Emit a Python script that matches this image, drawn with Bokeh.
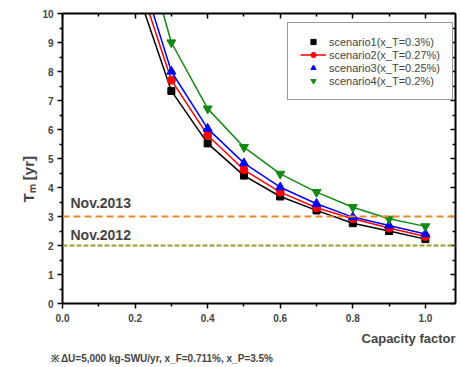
import math
from bokeh.plotting import figure
from bokeh.models import (Range1d, LinearAxis, Span, Label, Legend, LegendItem,
                          FixedTicker, NumeralTickFormatter, Title)
from bokeh.embed import file_html
from bokeh.resources import INLINE

# ---- data ----
capacity = [0.2, 0.3, 0.4, 0.5, 0.6, 0.7, 0.8, 0.9, 1.0]
s1 = [11.0, 7.33, 5.52, 4.41, 3.69, 3.21, 2.77, 2.50, 2.22]
s2 = [11.5, 7.70, 5.80, 4.61, 3.84, 3.30, 2.92, 2.60, 2.31]
s3 = [12.0, 8.00, 6.03, 4.84, 4.01, 3.44, 2.98, 2.69, 2.40]
s4 = [13.4, 9.00, 6.72, 5.39, 4.47, 3.84, 3.32, 2.92, 2.66]
names = ["scenario1(x_T=0.3%)", "scenario2(x_T=0.27%)",
         "scenario3(x_T=0.25%)", "scenario4(x_T=0.2%)"]
ref_levels = [3, 2]
ref_names = ["Nov.2013", "Nov.2012"]
x_ticks = [0.0, 0.2, 0.4, 0.6, 0.8, 1.0]
x_minor = [0.1, 0.3, 0.5, 0.7, 0.9]
y_ticks = list(range(0, 11))
y_minor = [v + 0.5 for v in range(0, 10)]

FONT = "Liberation Sans"

p = figure(width=460, height=367, output_backend="svg", toolbar_location=None,
           x_range=Range1d(0, 1.083), y_range=Range1d(0, 10),
           min_border_left=62, min_border_right=5, min_border_top=13, min_border_bottom=64)
p.grid.visible = False
p.outline_line_color = None
p.background_fill_color = "white"

def style_axis(ax, inward):
    ax.axis_line_width = 2
    ax.axis_line_color = "black"
    ax.major_tick_line_width = 1.5
    ax.minor_tick_line_width = 1.5
    if inward:
        ax.major_tick_in = 5; ax.major_tick_out = 0
        ax.minor_tick_in = 3; ax.minor_tick_out = 0
    else:
        ax.major_tick_in = 0; ax.major_tick_out = 5
        ax.minor_tick_in = 0; ax.minor_tick_out = 3
    ax.major_label_text_font = FONT
    ax.major_label_text_font_style = "bold"
    ax.major_label_text_font_size = "10px"

p.xaxis.ticker = FixedTicker(ticks=x_ticks, minor_ticks=x_minor)
p.yaxis.ticker = FixedTicker(ticks=y_ticks, minor_ticks=y_minor)
p.xaxis.formatter = NumeralTickFormatter(format="0.0")
style_axis(p.xaxis[0], False)
style_axis(p.yaxis[0], False)
p.xaxis.major_label_standoff = 5
p.yaxis.major_label_standoff = 4

top = LinearAxis(ticker=FixedTicker(ticks=x_ticks, minor_ticks=x_minor),
                 major_label_overrides={t: "" for t in x_ticks})
right = LinearAxis(ticker=FixedTicker(ticks=y_ticks, minor_ticks=y_minor),
                   major_label_overrides={t: "" for t in y_ticks})
for ax in (top, right):
    style_axis(ax, True)
    ax.major_label_standoff = 0
p.add_layout(top, "above")
p.add_layout(right, "right")

# reference lines
p.add_layout(Span(location=ref_levels[0], dimension="width", line_color="#e8892e",
                  line_width=2, line_dash="7 4"))
p.add_layout(Span(location=ref_levels[1], dimension="width", line_color="#9a9a28",
                  line_width=2, line_dash="5 2"))
p.add_layout(Label(x=0.022, y=ref_levels[0] + 0.2, text=ref_names[0], text_font=FONT,
                   text_font_style="bold", text_font_size="14px", text_baseline="bottom"))
p.add_layout(Label(x=0.022, y=ref_levels[1] + 0.1, text=ref_names[1], text_font=FONT,
                   text_font_style="bold", text_font_size="14px", text_baseline="bottom"))

# series
l1 = p.line(capacity, s1, line_color="black", line_width=1.5)
m1 = p.scatter(capacity, s1, marker="square", size=7, color="black")
l2 = p.line(capacity, s2, line_color="red", line_width=1.5)
m2 = p.scatter(capacity, s2, marker="circle", size=8, color="red")
l3 = p.line(capacity, s3, line_color="blue", line_width=1.5)
m3 = p.scatter(capacity, s3, marker="triangle", size=9, color="blue")
l4 = p.line(capacity, s4, line_color="#108a10", line_width=1.5)
m4 = p.scatter(capacity, s4, marker="inverted_triangle", size=9, color="#108a10")

legend = Legend(items=[
    LegendItem(label=names[0], renderers=[m1]),
    LegendItem(label=names[1], renderers=[l2, m2]),
    LegendItem(label=names[2], renderers=[m3]),
    LegendItem(label=names[3], renderers=[m4]),
], location=(225, 203))
legend.label_text_font = FONT
legend.label_text_font_size = "11px"
legend.label_height = 13
legend.glyph_height = 13
legend.glyph_width = 26
legend.spacing = 0
legend.padding = 12
legend.margin = 0
legend.label_standoff = 3
legend.border_line_color = "#333333"
legend.border_line_width = 1
p.add_layout(legend, "center")

# axis titles & footnote (outside the frame -> Title annotations)
p.add_layout(Title(text="Capacity factor", align="right", text_font=FONT,
                   text_font_style="bold", text_font_size="13px", standoff=9), "below")
p.add_layout(Title(text="※ ΔU=5,000 kg-SWU/yr, x_F=0.711%, x_P=3.5%", align="left",
                   offset=-12, text_font=FONT, text_font_style="bold",
                   text_font_size="10px", standoff=0), "below")
p.add_layout(Title(text="Tₘ [yr]", align="left", offset=101, text_font=FONT,
                   text_font_style="bold", text_font_size="15px", standoff=6), "left")

open("out.html", "w").write(file_html(p, INLINE))
